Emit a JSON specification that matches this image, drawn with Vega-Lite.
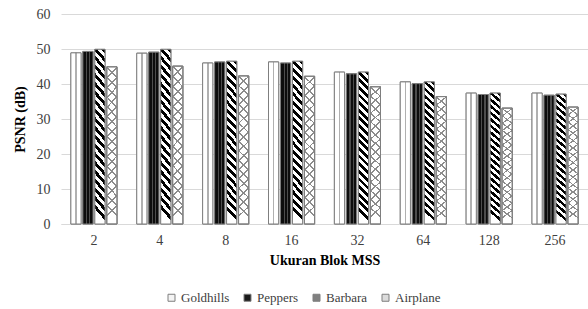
{
  "$schema": "https://vega.github.io/schema/vega-lite/v6.json",
  "autosize": "none",
  "padding": {"left": 61, "top": 14, "right": 0, "bottom": 85},
  "width": 527,
  "height": 210,
  "background": "white",
  "data": {
    "values": [
      {"blok": "2", "citra": "Goldhills", "psnr": 48.9},
      {"blok": "2", "citra": "Peppers", "psnr": 49.3},
      {"blok": "2", "citra": "Barbara", "psnr": 49.9},
      {"blok": "2", "citra": "Airplane", "psnr": 44.9},
      {"blok": "4", "citra": "Goldhills", "psnr": 48.8},
      {"blok": "4", "citra": "Peppers", "psnr": 49.1},
      {"blok": "4", "citra": "Barbara", "psnr": 49.9},
      {"blok": "4", "citra": "Airplane", "psnr": 45.1},
      {"blok": "8", "citra": "Goldhills", "psnr": 46.0},
      {"blok": "8", "citra": "Peppers", "psnr": 46.3},
      {"blok": "8", "citra": "Barbara", "psnr": 46.5},
      {"blok": "8", "citra": "Airplane", "psnr": 42.3},
      {"blok": "16", "citra": "Goldhills", "psnr": 46.3},
      {"blok": "16", "citra": "Peppers", "psnr": 46.0},
      {"blok": "16", "citra": "Barbara", "psnr": 46.5},
      {"blok": "16", "citra": "Airplane", "psnr": 42.2},
      {"blok": "32", "citra": "Goldhills", "psnr": 43.4},
      {"blok": "32", "citra": "Peppers", "psnr": 42.9},
      {"blok": "32", "citra": "Barbara", "psnr": 43.4},
      {"blok": "32", "citra": "Airplane", "psnr": 39.2},
      {"blok": "64", "citra": "Goldhills", "psnr": 40.6},
      {"blok": "64", "citra": "Peppers", "psnr": 40.1},
      {"blok": "64", "citra": "Barbara", "psnr": 40.6},
      {"blok": "64", "citra": "Airplane", "psnr": 36.4},
      {"blok": "128", "citra": "Goldhills", "psnr": 37.4},
      {"blok": "128", "citra": "Peppers", "psnr": 37.0},
      {"blok": "128", "citra": "Barbara", "psnr": 37.4},
      {"blok": "128", "citra": "Airplane", "psnr": 33.1},
      {"blok": "256", "citra": "Goldhills", "psnr": 37.4},
      {"blok": "256", "citra": "Peppers", "psnr": 36.8},
      {"blok": "256", "citra": "Barbara", "psnr": 37.1},
      {"blok": "256", "citra": "Airplane", "psnr": 33.4}
    ]
  },
  "encoding": {
    "x": {
      "field": "blok", "type": "nominal", "sort": null,
      "scale": {"paddingInner": 0.3, "paddingOuter": 0.15},
      "axis": {"title": "Ukuran Blok MSS", "labelAngle": 0, "ticks": false, "domainColor": "#d9d9d9", "labelPadding": 9, "titlePadding": 6}
    },
    "xOffset": {
      "field": "citra", "type": "nominal",
      "scale": {"domain": ["Goldhills", "Peppers", "Barbara", "Airplane"], "paddingInner": 0.15, "paddingOuter": 0}
    },
    "y": {
      "field": "psnr", "type": "quantitative",
      "scale": {"domain": [0, 60]},
      "axis": {"title": "PSNR (dB)", "values": [0, 10, 20, 30, 40, 50, 60], "ticks": false, "domain": false, "labelPadding": 11, "titlePadding": 9, "gridColor": "#d9d9d9"}
    }
  },
  "layer": [
    {
      "mark": {"type": "bar", "stroke": "#7f7f7f", "strokeWidth": 1},
      "encoding": {
        "color": {
          "field": "citra", "type": "nominal",
          "scale": {
            "domain": ["Goldhills", "Peppers", "Barbara", "Airplane"],
            "range": ["#f4f4f4", "#1a1a1a", "#808080", "#dcdcdc"]
          },
          "legend": {
            "title": null, "orient": "none", "direction": "horizontal",
            "legendX": 104, "legendY": 277,
            "symbolType": "square", "symbolSize": 49, "symbolStrokeColor": "#7f7f7f", "symbolStrokeWidth": 1, "symbolOpacity": 1,
            "labelOffset": 3, "columnPadding": 11
          }
        }
      }
    },
    {
      "transform": [{"filter": "datum.citra == 'Goldhills'"}],
      "mark": {"type": "bar", "stroke": "#7f7f7f", "strokeWidth": 1, "opacity": 1,
        "fill": {"gradient": "linear", "x1": 0, "y1": 0, "x2": 1, "y2": 0, "stops": [
          {"offset": 0, "color": "#ffffff"}, {"offset": 0.42, "color": "#ffffff"},
          {"offset": 0.42, "color": "#b0b0b0"}, {"offset": 0.58, "color": "#b0b0b0"},
          {"offset": 0.58, "color": "#ffffff"}, {"offset": 1, "color": "#ffffff"}]}}
    },
    {
      "transform": [{"filter": "datum.citra == 'Peppers'"}],
      "mark": {"type": "bar", "stroke": "#7f7f7f", "strokeWidth": 1, "opacity": 1,
        "fill": {"gradient": "linear", "x1": 0, "y1": 0, "x2": 1, "y2": 0, "stops": [
          {"offset": 0, "color": "#0d0d0d"}, {"offset": 0.3, "color": "#0d0d0d"},
          {"offset": 0.3, "color": "#4d4d4d"}, {"offset": 0.42, "color": "#4d4d4d"},
          {"offset": 0.42, "color": "#0d0d0d"}, {"offset": 0.62, "color": "#0d0d0d"},
          {"offset": 0.62, "color": "#4d4d4d"}, {"offset": 0.74, "color": "#4d4d4d"},
          {"offset": 0.74, "color": "#0d0d0d"}, {"offset": 1, "color": "#0d0d0d"}]}}
    },
    {
      "transform": [{"filter": "datum.citra == 'Barbara'"}],
      "mark": {"type": "bar", "stroke": "#7f7f7f", "strokeWidth": 1, "opacity": 1,
        "fill": {"gradient": "linear", "x1": 1, "y1": 0, "x2": 0.933, "y2": 1, "stops": [
          {"offset": 0, "color": "#000000"}, {"offset": 0.025, "color": "#000000"}, {"offset": 0.025, "color": "#ffffff"}, {"offset": 0.05, "color": "#ffffff"},
          {"offset": 0.05, "color": "#000000"}, {"offset": 0.075, "color": "#000000"}, {"offset": 0.075, "color": "#ffffff"}, {"offset": 0.1, "color": "#ffffff"},
          {"offset": 0.1, "color": "#000000"}, {"offset": 0.125, "color": "#000000"}, {"offset": 0.125, "color": "#ffffff"}, {"offset": 0.15, "color": "#ffffff"},
          {"offset": 0.15, "color": "#000000"}, {"offset": 0.175, "color": "#000000"}, {"offset": 0.175, "color": "#ffffff"}, {"offset": 0.2, "color": "#ffffff"},
          {"offset": 0.2, "color": "#000000"}, {"offset": 0.225, "color": "#000000"}, {"offset": 0.225, "color": "#ffffff"}, {"offset": 0.25, "color": "#ffffff"},
          {"offset": 0.25, "color": "#000000"}, {"offset": 0.275, "color": "#000000"}, {"offset": 0.275, "color": "#ffffff"}, {"offset": 0.3, "color": "#ffffff"},
          {"offset": 0.3, "color": "#000000"}, {"offset": 0.325, "color": "#000000"}, {"offset": 0.325, "color": "#ffffff"}, {"offset": 0.35, "color": "#ffffff"},
          {"offset": 0.35, "color": "#000000"}, {"offset": 0.375, "color": "#000000"}, {"offset": 0.375, "color": "#ffffff"}, {"offset": 0.4, "color": "#ffffff"},
          {"offset": 0.4, "color": "#000000"}, {"offset": 0.425, "color": "#000000"}, {"offset": 0.425, "color": "#ffffff"}, {"offset": 0.45, "color": "#ffffff"},
          {"offset": 0.45, "color": "#000000"}, {"offset": 0.475, "color": "#000000"}, {"offset": 0.475, "color": "#ffffff"}, {"offset": 0.5, "color": "#ffffff"},
          {"offset": 0.5, "color": "#000000"}, {"offset": 0.525, "color": "#000000"}, {"offset": 0.525, "color": "#ffffff"}, {"offset": 0.55, "color": "#ffffff"},
          {"offset": 0.55, "color": "#000000"}, {"offset": 0.575, "color": "#000000"}, {"offset": 0.575, "color": "#ffffff"}, {"offset": 0.6, "color": "#ffffff"},
          {"offset": 0.6, "color": "#000000"}, {"offset": 0.625, "color": "#000000"}, {"offset": 0.625, "color": "#ffffff"}, {"offset": 0.65, "color": "#ffffff"},
          {"offset": 0.65, "color": "#000000"}, {"offset": 0.675, "color": "#000000"}, {"offset": 0.675, "color": "#ffffff"}, {"offset": 0.7, "color": "#ffffff"},
          {"offset": 0.7, "color": "#000000"}, {"offset": 0.725, "color": "#000000"}, {"offset": 0.725, "color": "#ffffff"}, {"offset": 0.75, "color": "#ffffff"},
          {"offset": 0.75, "color": "#000000"}, {"offset": 0.775, "color": "#000000"}, {"offset": 0.775, "color": "#ffffff"}, {"offset": 0.8, "color": "#ffffff"},
          {"offset": 0.8, "color": "#000000"}, {"offset": 0.825, "color": "#000000"}, {"offset": 0.825, "color": "#ffffff"}, {"offset": 0.85, "color": "#ffffff"},
          {"offset": 0.85, "color": "#000000"}, {"offset": 0.875, "color": "#000000"}, {"offset": 0.875, "color": "#ffffff"}, {"offset": 0.9, "color": "#ffffff"},
          {"offset": 0.9, "color": "#000000"}, {"offset": 0.925, "color": "#000000"}, {"offset": 0.925, "color": "#ffffff"}, {"offset": 0.95, "color": "#ffffff"},
          {"offset": 0.95, "color": "#000000"}, {"offset": 0.975, "color": "#000000"}, {"offset": 0.975, "color": "#ffffff"}, {"offset": 1, "color": "#ffffff"}]}}
    },
    {
      "transform": [{"filter": "datum.citra == 'Airplane'"}],
      "mark": {"type": "bar", "stroke": "#7f7f7f", "strokeWidth": 1, "opacity": 1,
        "fill": {"gradient": "linear", "x1": 0, "y1": 0, "x2": 0.067, "y2": 1, "stops": [
          {"offset": 0, "color": "#8c8c8c"}, {"offset": 0.0125, "color": "#8c8c8c"}, {"offset": 0.0125, "color": "#ffffff"}, {"offset": 0.0625, "color": "#ffffff"},
          {"offset": 0.0625, "color": "#8c8c8c"}, {"offset": 0.075, "color": "#8c8c8c"}, {"offset": 0.075, "color": "#ffffff"}, {"offset": 0.125, "color": "#ffffff"},
          {"offset": 0.125, "color": "#8c8c8c"}, {"offset": 0.1375, "color": "#8c8c8c"}, {"offset": 0.1375, "color": "#ffffff"}, {"offset": 0.1875, "color": "#ffffff"},
          {"offset": 0.1875, "color": "#8c8c8c"}, {"offset": 0.2, "color": "#8c8c8c"}, {"offset": 0.2, "color": "#ffffff"}, {"offset": 0.25, "color": "#ffffff"},
          {"offset": 0.25, "color": "#8c8c8c"}, {"offset": 0.2625, "color": "#8c8c8c"}, {"offset": 0.2625, "color": "#ffffff"}, {"offset": 0.3125, "color": "#ffffff"},
          {"offset": 0.3125, "color": "#8c8c8c"}, {"offset": 0.325, "color": "#8c8c8c"}, {"offset": 0.325, "color": "#ffffff"}, {"offset": 0.375, "color": "#ffffff"},
          {"offset": 0.375, "color": "#8c8c8c"}, {"offset": 0.3875, "color": "#8c8c8c"}, {"offset": 0.3875, "color": "#ffffff"}, {"offset": 0.4375, "color": "#ffffff"},
          {"offset": 0.4375, "color": "#8c8c8c"}, {"offset": 0.45, "color": "#8c8c8c"}, {"offset": 0.45, "color": "#ffffff"}, {"offset": 0.5, "color": "#ffffff"},
          {"offset": 0.5, "color": "#8c8c8c"}, {"offset": 0.5125, "color": "#8c8c8c"}, {"offset": 0.5125, "color": "#ffffff"}, {"offset": 0.5625, "color": "#ffffff"},
          {"offset": 0.5625, "color": "#8c8c8c"}, {"offset": 0.575, "color": "#8c8c8c"}, {"offset": 0.575, "color": "#ffffff"}, {"offset": 0.625, "color": "#ffffff"},
          {"offset": 0.625, "color": "#8c8c8c"}, {"offset": 0.6375, "color": "#8c8c8c"}, {"offset": 0.6375, "color": "#ffffff"}, {"offset": 0.6875, "color": "#ffffff"},
          {"offset": 0.6875, "color": "#8c8c8c"}, {"offset": 0.7, "color": "#8c8c8c"}, {"offset": 0.7, "color": "#ffffff"}, {"offset": 0.75, "color": "#ffffff"},
          {"offset": 0.75, "color": "#8c8c8c"}, {"offset": 0.7625, "color": "#8c8c8c"}, {"offset": 0.7625, "color": "#ffffff"}, {"offset": 0.8125, "color": "#ffffff"},
          {"offset": 0.8125, "color": "#8c8c8c"}, {"offset": 0.825, "color": "#8c8c8c"}, {"offset": 0.825, "color": "#ffffff"}, {"offset": 0.875, "color": "#ffffff"},
          {"offset": 0.875, "color": "#8c8c8c"}, {"offset": 0.8875, "color": "#8c8c8c"}, {"offset": 0.8875, "color": "#ffffff"}, {"offset": 0.9375, "color": "#ffffff"},
          {"offset": 0.9375, "color": "#8c8c8c"}, {"offset": 0.95, "color": "#8c8c8c"}, {"offset": 0.95, "color": "#ffffff"}, {"offset": 1, "color": "#ffffff"}]}}
    },
    {
      "transform": [{"filter": "datum.citra == 'Airplane'"}],
      "mark": {"type": "bar", "stroke": "#7f7f7f", "strokeWidth": 1, "opacity": 1,
        "fill": {"gradient": "linear", "x1": 1, "y1": 0, "x2": 0.933, "y2": 1, "stops": [
          {"offset": 0, "color": "#8c8c8c"}, {"offset": 0.0125, "color": "#8c8c8c"}, {"offset": 0.0125, "color": "rgba(255,255,255,0)"}, {"offset": 0.0625, "color": "rgba(255,255,255,0)"},
          {"offset": 0.0625, "color": "#8c8c8c"}, {"offset": 0.075, "color": "#8c8c8c"}, {"offset": 0.075, "color": "rgba(255,255,255,0)"}, {"offset": 0.125, "color": "rgba(255,255,255,0)"},
          {"offset": 0.125, "color": "#8c8c8c"}, {"offset": 0.1375, "color": "#8c8c8c"}, {"offset": 0.1375, "color": "rgba(255,255,255,0)"}, {"offset": 0.1875, "color": "rgba(255,255,255,0)"},
          {"offset": 0.1875, "color": "#8c8c8c"}, {"offset": 0.2, "color": "#8c8c8c"}, {"offset": 0.2, "color": "rgba(255,255,255,0)"}, {"offset": 0.25, "color": "rgba(255,255,255,0)"},
          {"offset": 0.25, "color": "#8c8c8c"}, {"offset": 0.2625, "color": "#8c8c8c"}, {"offset": 0.2625, "color": "rgba(255,255,255,0)"}, {"offset": 0.3125, "color": "rgba(255,255,255,0)"},
          {"offset": 0.3125, "color": "#8c8c8c"}, {"offset": 0.325, "color": "#8c8c8c"}, {"offset": 0.325, "color": "rgba(255,255,255,0)"}, {"offset": 0.375, "color": "rgba(255,255,255,0)"},
          {"offset": 0.375, "color": "#8c8c8c"}, {"offset": 0.3875, "color": "#8c8c8c"}, {"offset": 0.3875, "color": "rgba(255,255,255,0)"}, {"offset": 0.4375, "color": "rgba(255,255,255,0)"},
          {"offset": 0.4375, "color": "#8c8c8c"}, {"offset": 0.45, "color": "#8c8c8c"}, {"offset": 0.45, "color": "rgba(255,255,255,0)"}, {"offset": 0.5, "color": "rgba(255,255,255,0)"},
          {"offset": 0.5, "color": "#8c8c8c"}, {"offset": 0.5125, "color": "#8c8c8c"}, {"offset": 0.5125, "color": "rgba(255,255,255,0)"}, {"offset": 0.5625, "color": "rgba(255,255,255,0)"},
          {"offset": 0.5625, "color": "#8c8c8c"}, {"offset": 0.575, "color": "#8c8c8c"}, {"offset": 0.575, "color": "rgba(255,255,255,0)"}, {"offset": 0.625, "color": "rgba(255,255,255,0)"},
          {"offset": 0.625, "color": "#8c8c8c"}, {"offset": 0.6375, "color": "#8c8c8c"}, {"offset": 0.6375, "color": "rgba(255,255,255,0)"}, {"offset": 0.6875, "color": "rgba(255,255,255,0)"},
          {"offset": 0.6875, "color": "#8c8c8c"}, {"offset": 0.7, "color": "#8c8c8c"}, {"offset": 0.7, "color": "rgba(255,255,255,0)"}, {"offset": 0.75, "color": "rgba(255,255,255,0)"},
          {"offset": 0.75, "color": "#8c8c8c"}, {"offset": 0.7625, "color": "#8c8c8c"}, {"offset": 0.7625, "color": "rgba(255,255,255,0)"}, {"offset": 0.8125, "color": "rgba(255,255,255,0)"},
          {"offset": 0.8125, "color": "#8c8c8c"}, {"offset": 0.825, "color": "#8c8c8c"}, {"offset": 0.825, "color": "rgba(255,255,255,0)"}, {"offset": 0.875, "color": "rgba(255,255,255,0)"},
          {"offset": 0.875, "color": "#8c8c8c"}, {"offset": 0.8875, "color": "#8c8c8c"}, {"offset": 0.8875, "color": "rgba(255,255,255,0)"}, {"offset": 0.9375, "color": "rgba(255,255,255,0)"},
          {"offset": 0.9375, "color": "#8c8c8c"}, {"offset": 0.95, "color": "#8c8c8c"}, {"offset": 0.95, "color": "rgba(255,255,255,0)"}, {"offset": 1, "color": "rgba(255,255,255,0)"}]}}
    }
  ],
  "config": {
    "font": "Liberation Serif",
    "view": {"stroke": null},
    "axis": {"labelFont": "Liberation Serif", "labelFontSize": 14, "labelColor": "#404040", "titleFont": "Liberation Serif", "titleFontSize": 14, "titleFontWeight": "bold", "titleColor": "#000000"},
    "legend": {"labelFont": "Liberation Serif", "labelFontSize": 13, "labelColor": "#404040"}
  }
}
